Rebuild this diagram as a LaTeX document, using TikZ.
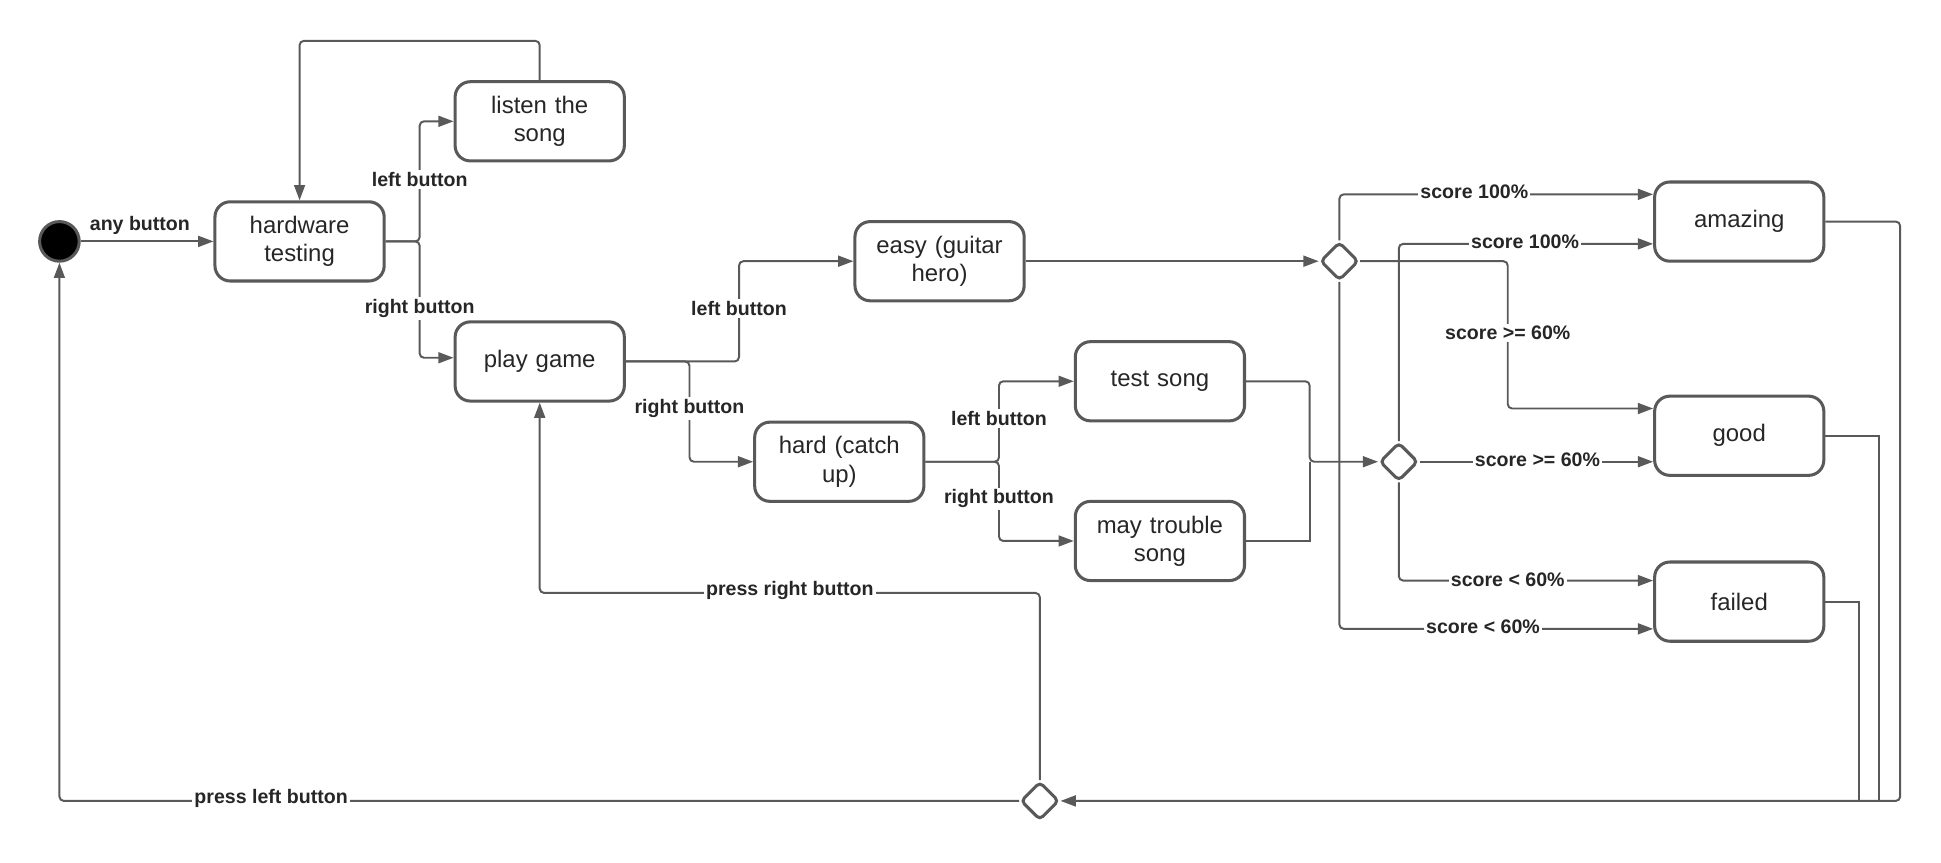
\documentclass[tikz,border=0pt]{standalone}
\usepackage{fontspec}
\setmainfont{Liberation Sans}
\usetikzlibrary{arrows.meta,shapes.geometric}
\definecolor{linegray}{RGB}{89,89,89}
\begin{document}
\begin{tikzpicture}[x=0.02cm, y=-0.02cm, color=linegray, line width=0.9pt,
  state/.style={draw, line width=1.4pt, rounded corners=7pt, minimum width=2.58cm, minimum height=1.28cm, align=center, text=black!85, font=\fontsize{11}{13}\selectfont, text width=2.5cm},
  choice/.style={draw, line width=1.4pt, diamond, rounded corners=2pt, minimum size=0.62cm, inner sep=0pt},
  arr/.style={-{Triangle[length=7pt,width=5pt]}, rounded corners=2pt},
  lab/.style={fill=white, inner sep=1pt, text=black!85, font=\fontsize{9}{10}\selectfont\bfseries}]
\useasboundingbox (0,0) rectangle (1568,697);
			\node[circle, fill=black, draw, line width=1.4pt, minimum size=0.64cm] (init) at (48,195) {};
			\node[state] (hw) at (242,195) {hardware\\ testing};
			\node[state] (listen) at (436,98) {listen the song};
			\node[state] (play) at (436,292) {play game};
			\node[state] (easy) at (759,211) {easy (guitar\\ hero)};
			\node[state] (hard) at (678,373) {hard (catch\\ up)};
			\node[state] (test) at (937,308) {test song};
			\node[state] (may) at (937,437) {may trouble\\ song};
			\node[state] (amazing) at (1405,179) {amazing};
			\node[state] (good) at (1405,352) {good};
			\node[state] (failed) at (1405,486) {failed};
			\node[choice] (dA) at (1082,211) {};
			\node[choice] (dB) at (1130,373) {};
			\node[choice] (dC) at (840,647) {};
			\draw[arr] (init) -- (hw);
			\draw[arr] (hw.east) -- (339,195) |- (listen.west);
			\draw[arr] (hw.east) -- (339,195) |- (play.west |- 0,289);
			\draw[arr] (listen.north) |- (242,33) -- (hw.north);
			\draw[arr] (play.east |- 0,292) -| (597,211) -- (easy.west);
			\draw[arr] (play.east |- 0,292) -| (557,373) -- (hard.west);
			\draw[arr] (hard.east) -| (807,308) -- (test.west);
			\draw[arr] (hard.east) -| (807,437) -- (may.west);
			\draw[arr] (test.east |- 0,308) -| (1058,373) -- (dB.west);
			\draw (may.east) -| (1058,373);
			\draw[arr] (easy.east) -- (dA.west);
			\draw[arr] (dA.north) |- (amazing.west |- 0,157);
			\draw[arr] (dA.east) -| (1218,330) -- (good.west |- 0,330);
			\draw[arr] (dA.south) |- (failed.west |- 0,508);
			\draw[arr] (dB.north) |- (amazing.west |- 0,197);
			\draw[arr] (dB.east) -- (good.west |- 0,373);
			\draw[arr] (dB.south) |- (failed.west |- 0,469);
			\draw[arr] (amazing.east) -| (1535,647) -- (dC.east);
			\draw (good.east) -| (1518,647) -- (1500,647);
			\draw (failed.east) -| (1502,647) -- (1490,647);
			\draw[arr] (dC.north) |- (436,479) -- (play.south);
			\draw[arr] (dC.west) -| (init.south);
			% labels
			\node[lab, fill=none] at (113,182) {any button};
			\node[lab] at (339,145) {left button};
			\node[lab] at (339,249) {right button};
			\node[lab] at (597,249) {left button};
			\node[lab] at (557,330) {right button};
			\node[lab] at (807,338) {left button};
			\node[lab] at (807,403) {right button};
			\node[lab] at (1191,155) {score 100\%};
			\node[lab] at (1232,195) {score 100\%};
			\node[lab] at (1218,269) {score >= 60\%};
			\node[lab] at (1242,371) {score >= 60\%};
			\node[lab] at (1218,468) {score < 60\%};
			\node[lab] at (1198,506) {score < 60\%};
			\node[lab] at (638,477) {press right button};
			\node[lab] at (219,645) {press left button};
		\end{tikzpicture}
\end{document}
